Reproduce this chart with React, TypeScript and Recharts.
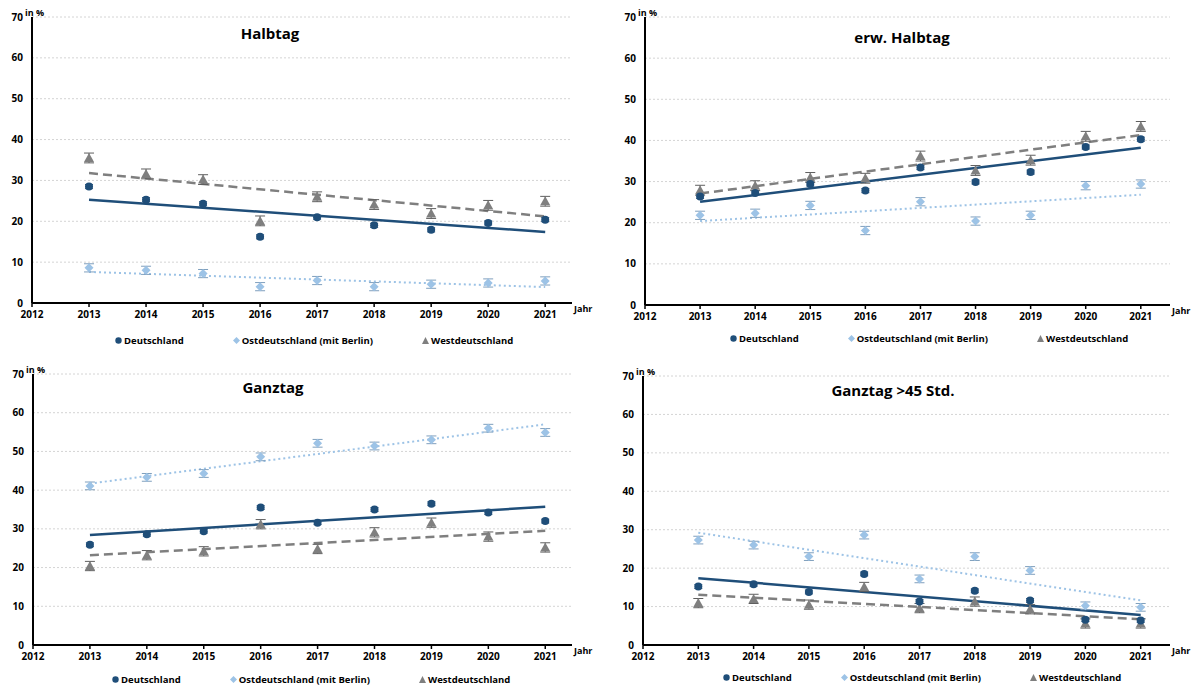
import React from 'react';
import { ComposedChart, Line, XAxis, YAxis, CartesianGrid, ErrorBar } from 'recharts';

const YEARS = [2013, 2014, 2015, 2016, 2017, 2018, 2019, 2020, 2021];
const X_TICKS = [2012, 2013, 2014, 2015, 2016, 2017, 2018, 2019, 2020, 2021];
const Y_TICKS = [0, 10, 20, 30, 40, 50, 60, 70];

// Halbtag
const halbtagDE = [28.5, 25.3, 24.3, 16.2, 21.0, 19.0, 17.9, 19.6, 20.4];
const halbtagOst = [8.6, 8.0, 7.2, 4.0, 5.5, 4.0, 4.6, 4.9, 5.4];
const halbtagWest = [35.5, 31.6, 30.2, 20.1, 26.0, 24.1, 21.9, 23.9, 24.9];
const halbtagTrendDE = [25.3, 17.4];
const halbtagTrendOst = [7.6, 3.9];
const halbtagTrendWest = [31.8, 21.2];

// erw. Halbtag
const erwDE = [26.4, 27.2, 29.4, 27.8, 33.4, 29.9, 32.3, 38.4, 40.3];
const erwOst = [21.8, 22.3, 24.2, 18.1, 25.1, 20.4, 21.8, 29.0, 29.4];
const erwWest = [27.9, 29.0, 31.0, 30.8, 36.2, 32.7, 35.2, 41.0, 43.4];
const erwTrendDE = [25.1, 38.2];
const erwTrendOst = [20.4, 26.8];
const erwTrendWest = [27.1, 41.3];

// Ganztag
const ganzDE = [25.9, 28.6, 29.4, 35.5, 31.6, 35.0, 36.5, 34.2, 32.0];
const ganzOst = [41.1, 43.3, 44.3, 48.6, 52.1, 51.4, 53.0, 56.0, 54.9];
const ganzWest = [20.4, 23.2, 24.2, 31.2, 24.8, 29.1, 31.6, 28.0, 25.2];
const ganzTrendDE = [28.4, 35.7];
const ganzTrendOst = [41.7, 57.0];
const ganzTrendWest = [23.2, 29.5];

// Ganztag >45 Std.
const g45DE = [15.2, 15.8, 13.8, 18.5, 11.3, 14.1, 11.6, 6.6, 6.4];
const g45Ost = [27.3, 26.0, 23.0, 28.6, 17.2, 23.0, 19.4, 10.2, 9.8];
const g45West = [10.9, 12.0, 10.5, 15.1, 9.6, 11.3, 9.3, 5.6, 5.6];
const g45TrendDE = [17.4, 7.8];
const g45TrendOst = [29.2, 11.6];
const g45TrendWest = [13.1, 6.7];

const ERR_DE = [0.5, 0.5, 0.5, 0.5, 0.5, 0.5, 0.5, 0.5, 0.5];
const ERR_OST = [1.0, 1.0, 1.0, 1.0, 1.0, 1.0, 1.0, 1.0, 1.0];
const ERR_WEST = [1.2, 1.2, 1.2, 1.2, 1.2, 1.2, 1.2, 1.2, 1.2];

const C_DE = '#1F4E79';
const C_OST = '#9DC3E6';
const C_WEST = '#7F7F7F';
const FONT = '"Open Sans", "Noto Sans", sans-serif';

const buildRows = (de: number[], ost: number[], west: number[], tDE: number[], tOst: number[], tWest: number[]) =>
  YEARS.map((year, i) => {
    const last = i === YEARS.length - 1;
    const edge = i === 0 || last;
    return {
      year,
      de: de[i],
      ost: ost[i],
      west: west[i],
      deErr: ERR_DE[i],
      ostErr: ERR_OST[i],
      westErr: ERR_WEST[i],
      tDE: edge ? tDE[last ? 1 : 0] : null,
      tOst: edge ? tOst[last ? 1 : 0] : null,
      tWest: edge ? tWest[last ? 1 : 0] : null,
    };
  });

const Circle = (props: any) => {
  const { cx, cy, index } = props;
  if (cx == null || cy == null) return <g key={`c-${index}`} />;
  return <circle key={`c-${index}`} cx={cx} cy={cy} r={4} fill={C_DE} />;
};

const Diamond = (props: any) => {
  const { cx, cy, index } = props;
  if (cx == null || cy == null) return <g key={`d-${index}`} />;
  const s = 4.5;
  return (
    <path key={`d-${index}`} d={`M${cx},${cy - s}L${cx + s},${cy}L${cx},${cy + s}L${cx - s},${cy}Z`} fill={C_OST} />
  );
};

const Triangle = (props: any) => {
  const { cx, cy, index } = props;
  if (cx == null || cy == null) return <g key={`t-${index}`} />;
  return (
    <path key={`t-${index}`} d={`M${cx},${cy - 5}L${cx + 5},${cy + 4}L${cx - 5},${cy + 4}Z`} fill={C_WEST} />
  );
};

const tickStyle = { fill: '#000', fontSize: 10, fontWeight: 700, fontFamily: FONT };

interface PanelProps {
  left: number;
  top: number;
  title: string;
  titleX: number;
  titleY: number;
  plotLeft: number;
  plotTop: number;
  plotBottom: number;
  plotRight: number;
  xMax: number;
  legendX: number;
  legendY: number;
  rows: any[];
}

const W = 600;
const H = 345;
const Y_W = 28;
const X_H = 30;

function Panel(p: PanelProps) {
  const margin = {
    top: p.plotTop,
    right: W - p.plotRight,
    bottom: H - p.plotBottom - X_H,
    left: p.plotLeft - Y_W,
  };
  return (
    <div style={{ position: 'absolute', left: p.left, top: p.top, width: W, height: H, fontFamily: FONT }}>
      <ComposedChart width={W} height={H} data={p.rows} margin={margin}>
        <CartesianGrid horizontal vertical={false} stroke="#d4d4d4" strokeDasharray="2 2" />
        <XAxis
          type="number"
          dataKey="year"
          domain={[2012, p.xMax]}
          ticks={X_TICKS}
          allowDataOverflow
          height={X_H}
          axisLine={{ stroke: '#000', strokeWidth: 2 }}
          tickLine={{ stroke: '#000', strokeWidth: 1.5 }}
          tickSize={4}
          tickMargin={4}
          tick={tickStyle}
        />
        <YAxis
          type="number"
          domain={[0, 70]}
          ticks={Y_TICKS}
          width={Y_W}
          axisLine={{ stroke: '#000', strokeWidth: 2 }}
          tickLine={false}
          tickSize={0}
          tickMargin={9}
          tick={tickStyle}
        />
        <Line dataKey="tWest" stroke={C_WEST} strokeWidth={2.5} strokeDasharray="9 5" dot={false} connectNulls isAnimationActive={false} />
        <Line dataKey="tDE" stroke={C_DE} strokeWidth={2.5} dot={false} connectNulls isAnimationActive={false} />
        <Line dataKey="tOst" stroke={C_OST} strokeWidth={2} strokeDasharray="2 3" dot={false} connectNulls isAnimationActive={false} />
        <Line dataKey="west" stroke="none" dot={Triangle} activeDot={false} isAnimationActive={false}>
          <ErrorBar dataKey="westErr" width={5} stroke="#5f5f5f" strokeWidth={1} />
        </Line>
        <Line dataKey="ost" stroke="none" dot={Diamond} activeDot={false} isAnimationActive={false}>
          <ErrorBar dataKey="ostErr" width={5} stroke="#7f9fbd" strokeWidth={1} />
        </Line>
        <Line dataKey="de" stroke="none" dot={Circle} activeDot={false} isAnimationActive={false}>
          <ErrorBar dataKey="deErr" width={4} stroke="#3a5f85" strokeWidth={1} />
        </Line>
      </ComposedChart>

      <div style={{ position: 'absolute', left: p.titleX, top: p.titleY, transform: 'translate(-50%, -50%)', fontSize: 15, fontWeight: 700, whiteSpace: 'nowrap' }}>
        {p.title}
      </div>
      <div style={{ position: 'absolute', left: p.plotLeft - 7, top: p.plotTop - 11, fontSize: 9, fontWeight: 700 }}>in %</div>
      <div style={{ position: 'absolute', left: p.plotRight + 2, top: p.plotBottom - 1, fontSize: 9, fontWeight: 700 }}>Jahr</div>

      {/* Legend */}
      <div style={{ position: 'absolute', left: p.legendX, top: p.legendY - 7, display: 'flex', gap: 49, fontSize: 9.5, fontWeight: 700, whiteSpace: 'nowrap' }}>
        <div style={{ display: 'flex', alignItems: 'center', gap: 2 }}>
          <svg width={7} height={7}><circle cx={3.5} cy={3.5} r={3.2} fill={C_DE} /></svg>
          <span>Deutschland</span>
        </div>
        <div style={{ display: 'flex', alignItems: 'center', gap: 2 }}>
          <svg width={7} height={7}><path d="M3.5,0L7,3.5L3.5,7L0,3.5Z" fill={C_OST} /></svg>
          <span>Ostdeutschland (mit Berlin)</span>
        </div>
        <div style={{ display: 'flex', alignItems: 'center', gap: 2 }}>
          <svg width={7} height={7}><path d="M3.5,0L7,7L0,7Z" fill={C_WEST} /></svg>
          <span>Westdeutschland</span>
        </div>
      </div>
    </div>
  );
}

export default function App() {
  return (
    <div style={{ position: 'absolute', left: 0, top: 0, width: 1197, height: 688, background: '#fff' }}>
      <Panel
        left={0} top={0} title="Halbtag" titleX={270} titleY={33}
        plotLeft={32} plotTop={17} plotBottom={303} plotRight={572} xMax={2021.47}
        legendX={115} legendY={341}
        rows={buildRows(halbtagDE, halbtagOst, halbtagWest, halbtagTrendDE, halbtagTrendOst, halbtagTrendWest)}
      />
      <Panel
        left={600} top={0} title="erw. Halbtag" titleX={302} titleY={37}
        plotLeft={45} plotTop={17} plotBottom={305} plotRight={570} xMax={2021.53}
        legendX={130} legendY={339}
        rows={buildRows(erwDE, erwOst, erwWest, erwTrendDE, erwTrendOst, erwTrendWest)}
      />
      <Panel
        left={0} top={345} title="Ganztag" titleX={273} titleY={42}
        plotLeft={33} plotTop={29} plotBottom={300} plotRight={572} xMax={2021.47}
        legendX={112} legendY={335}
        rows={buildRows(ganzDE, ganzOst, ganzWest, ganzTrendDE, ganzTrendOst, ganzTrendWest)}
      />
      <Panel
        left={600} top={345} title="Ganztag >45 Std." titleX={293} titleY={45}
        plotLeft={43} plotTop={31} plotBottom={300} plotRight={570} xMax={2021.53}
        legendX={123} legendY={333}
        rows={buildRows(g45DE, g45Ost, g45West, g45TrendDE, g45TrendOst, g45TrendWest)}
      />
    </div>
  );
}
